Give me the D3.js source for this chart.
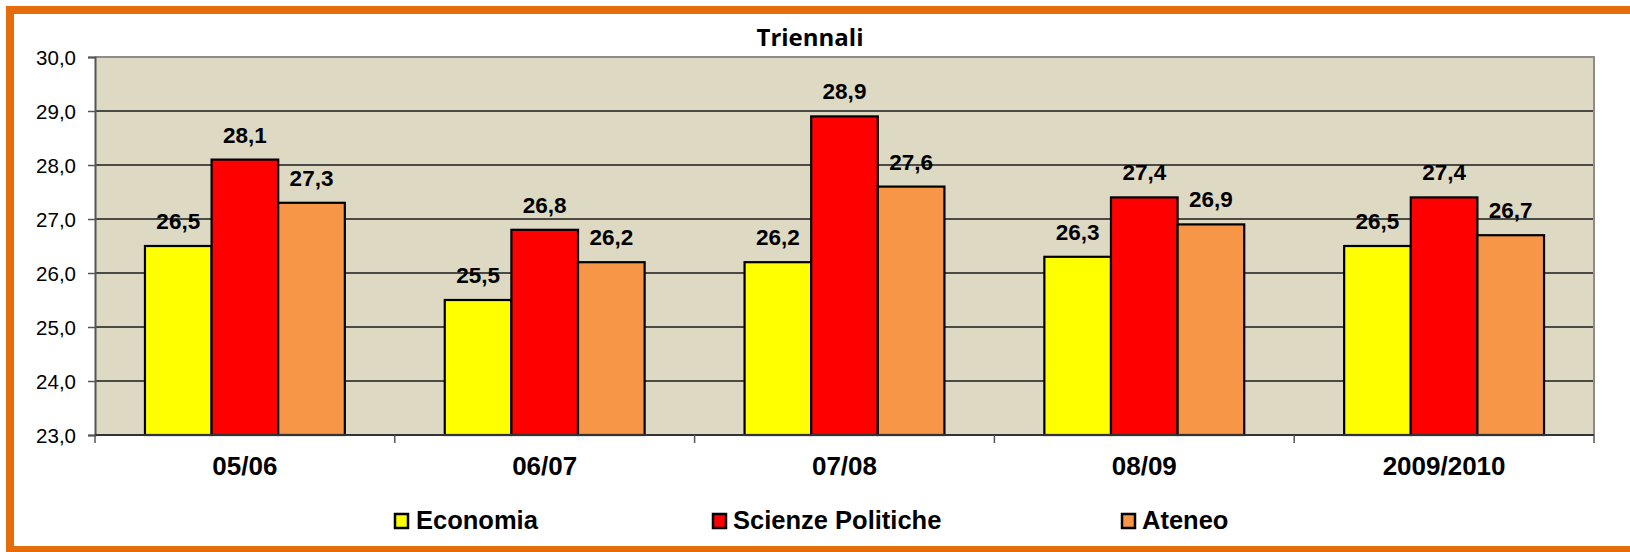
<!DOCTYPE html>
<html>
<head>
<meta charset="utf-8">
<script src="https://cdn.jsdelivr.net/npm/d3@7"></script>
<style>
  html, body { margin: 0; padding: 0; background: #fff; }
  svg { display: block; }
</style>
</head>
<body>
<svg id="chart" width="1630" height="552"></svg>
<script>
const categories = ["05/06", "06/07", "07/08", "08/09", "2009/2010"];
const seriesNames = ["Economia", "Scienze Politiche", "Ateneo"];
const economia = [26.5, 25.5, 26.2, 26.3, 26.5];
const scienzePolitiche = [28.1, 26.8, 28.9, 27.4, 27.4];
const ateneo = [27.3, 26.2, 27.6, 26.9, 26.7];
const yTicks = [23, 24, 25, 26, 27, 28, 29, 30];
const title = "Triennali";

const colors = ["#FFFF00", "#FF0000", "#F79646"];
const seriesValues = [economia, scienzePolitiche, ateneo];

const svg = d3.select("#chart");

// Orange frame (right edge beyond view)
svg.append("rect")
  .attr("x", 10).attr("y", 10).attr("width", 1650).attr("height", 540)
  .attr("fill", "#fff").attr("stroke", "#E46C0A").attr("stroke-width", 8);

const plot = { left: 95, right: 1594, top: 57, bottom: 435 };

const y = d3.scaleLinear().domain([23, 30]).range([plot.bottom, plot.top]);
const x0 = d3.scaleBand().domain(categories)
  .range([plot.left, plot.right])
  .paddingInner(1 / 3).paddingOuter(1 / 6);
const x1 = d3.scaleBand().domain(d3.range(seriesNames.length))
  .range([0, x0.bandwidth()]).padding(0);

// Plot background
svg.append("rect")
  .attr("x", plot.left).attr("y", plot.top)
  .attr("width", plot.right - plot.left).attr("height", plot.bottom - plot.top)
  .attr("fill", "#DDD9C3");

// Gridlines
svg.append("g").selectAll("line")
  .data(yTicks.filter(t => t > 23 && t < 30))
  .join("line")
  .attr("x1", plot.left).attr("x2", plot.right)
  .attr("y1", d => y(d)).attr("y2", d => y(d))
  .attr("stroke", "#1a1a1a").attr("stroke-width", 1.3);

// Top & right border (gray)
svg.append("path")
  .attr("d", `M${plot.left},${plot.top}H${plot.right}V${plot.bottom}`)
  .attr("fill", "none").attr("stroke", "#8c8c8c").attr("stroke-width", 2);

// Bars
const groups = svg.append("g").selectAll("g")
  .data(categories)
  .join("g")
  .attr("transform", d => `translate(${x0(d)},0)`);

groups.selectAll("rect")
  .data((c, i) => seriesValues.map((vals, s) => ({ s, v: vals[i] })))
  .join("rect")
  .attr("x", d => x1(d.s))
  .attr("width", x1.bandwidth())
  .attr("y", d => y(d.v))
  .attr("height", d => y(23) - y(d.v))
  .attr("fill", d => colors[d.s])
  .attr("stroke", "#000").attr("stroke-width", 2.2);

// Value labels
groups.selectAll("text")
  .data((c, i) => seriesValues.map((vals, s) => ({ s, v: vals[i] })))
  .join("text")
  .attr("x", d => x1(d.s) + x1.bandwidth() / 2)
  .attr("y", d => y(d.v) - 17)
  .attr("text-anchor", "middle")
  .attr("font-family", "Liberation Sans, Arial, sans-serif")
  .attr("font-weight", "bold")
  .attr("font-size", 22.5)
  .attr("fill", "#000")
  .text(d => d.v.toFixed(1).replace(".", ","));

// Y axis
const yAxis = d3.axisLeft(y).tickValues(yTicks).tickSize(7)
  .tickFormat(d => d.toFixed(1).replace(".", ","));
const gy = svg.append("g").attr("transform", `translate(${plot.left},0)`).call(yAxis);
gy.select(".domain").attr("stroke", "#555").attr("stroke-width", 2);
gy.selectAll(".tick line").attr("stroke", "#555").attr("stroke-width", 1.5);
gy.selectAll(".tick text")
  .attr("x", -19).attr("dy", "0.38em")
  .attr("font-family", "Liberation Sans, Arial, sans-serif")
  .attr("font-size", 20.5).attr("fill", "#000");

// X axis (ticks at category boundaries)
const boundaries = d3.range(categories.length + 1).map(i => plot.left + i * x0.step());
svg.append("line")
  .attr("x1", plot.left).attr("x2", plot.right)
  .attr("y1", plot.bottom).attr("y2", plot.bottom)
  .attr("stroke", "#333").attr("stroke-width", 2);
svg.append("g").selectAll("line")
  .data(boundaries)
  .join("line")
  .attr("x1", d => d).attr("x2", d => d)
  .attr("y1", plot.bottom).attr("y2", plot.bottom + 8)
  .attr("stroke", "#555").attr("stroke-width", 1.5);

svg.append("g").selectAll("text")
  .data(categories)
  .join("text")
  .attr("x", d => x0(d) + x0.bandwidth() / 2)
  .attr("y", 475)
  .attr("text-anchor", "middle")
  .attr("font-family", "Liberation Sans, Arial, sans-serif")
  .attr("font-weight", "bold")
  .attr("font-size", 26)
  .attr("fill", "#000")
  .text(d => d);

// Title
svg.append("text")
  .attr("x", 810).attr("y", 46)
  .attr("text-anchor", "middle")
  .attr("font-family", "Open Sans, Lato, sans-serif")
  .attr("font-weight", "bold")
  .attr("font-size", 24)
  .attr("fill", "#000")
  .text(title);

// Legend
const legendX = [395, 713, 1122];
const legendTextX = [416, 733, 1142];
const leg = svg.append("g").selectAll("g")
  .data(seriesNames)
  .join("g");
leg.append("rect")
  .attr("x", (d, i) => legendX[i]).attr("y", 514)
  .attr("width", 13).attr("height", 14)
  .attr("fill", (d, i) => colors[i])
  .attr("stroke", "#000").attr("stroke-width", 2.5);
leg.append("text")
  .attr("x", (d, i) => legendTextX[i]).attr("y", 529)
  .attr("font-family", "Liberation Sans, Arial, sans-serif")
  .attr("font-weight", "bold")
  .attr("font-size", 25.5)
  .attr("fill", "#000")
  .text(d => d);
</script>
</body>
</html>
